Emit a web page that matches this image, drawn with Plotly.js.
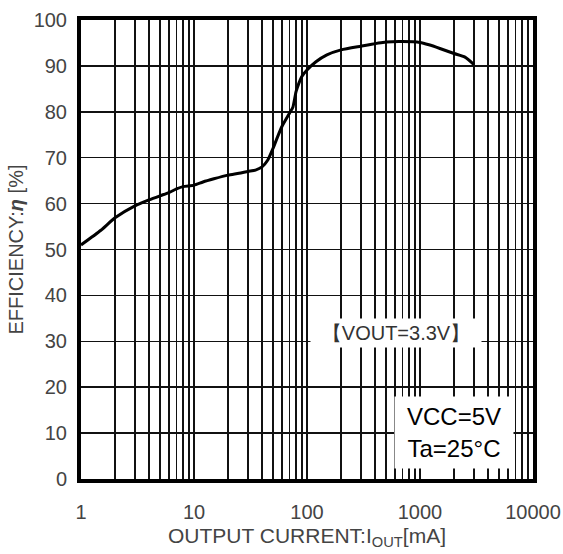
<!DOCTYPE html>
<html><head><meta charset="utf-8">
<script src="https://cdn.plot.ly/plotly-3.0.1.min.js"></script>
<style>html,body{margin:0;padding:0;background:#fff}#c{width:563px;height:554px}</style>
</head><body><div id="c"></div>
<script>
const currentMA = [1, 1.5, 2, 3, 4, 5, 6, 7, 8, 10, 12, 15, 20, 25, 30, 35, 40, 45, 50, 55, 60, 70, 75, 80, 85, 90, 100, 120, 150, 200, 300, 500, 700, 1000, 1200, 1500, 2000, 2500, 3000];
const efficiency = [51, 54.2, 56.9, 59.5, 60.8, 61.7, 62.4, 63.2, 63.7, 64, 64.7, 65.4, 66.2, 66.6, 67, 67.3, 68, 69.5, 72, 74.6, 76.8, 79.7, 81, 84.4, 86.3, 87.7, 89.1, 90.9, 92.4, 93.5, 94.3, 95.2, 95.3, 95.1, 94.6, 93.8, 92.7, 91.9, 90.3];
const decades = [1, 10, 100, 1000, 10000];
const decadeLabels = ['1', '10', '100', '1000', '10000'];
const yTicks = [0, 10, 20, 30, 40, 50, 60, 70, 80, 90, 100];

// grid positions: every digit of each decade, labels only at decades
const gridVals = [], gridText = [];
decades.forEach((d, i) => {
  if (i < decades.length - 1) {
    for (let k = 1; k <= 9; k++) { gridVals.push(d * k); gridText.push(k === 1 ? decadeLabels[i] : ''); }
  } else { gridVals.push(d); gridText.push(decadeLabels[i]); }
});

const font = 'Liberation Sans, Arial, sans-serif';
Plotly.newPlot('c', [{
  x: currentMA, y: efficiency, type: 'scatter', mode: 'lines',
  line: {color: '#000', width: 3, shape: 'spline', smoothing: 0.6},
  hoverinfo: 'none'
}], {
  width: 563, height: 554,
  margin: {l: 81, r: 30, t: 20, b: 75},
  paper_bgcolor: '#fff', plot_bgcolor: '#fff',
  showlegend: false,
  font: {family: font, color: '#333', size: 18},
  xaxis: {
    type: 'log', range: [0, 4],
    tickmode: 'array', tickvals: gridVals, ticktext: gridText,
    ticks: '', showgrid: true, gridcolor: '#111', gridwidth: 1.5,
    showline: true, linecolor: '#000', linewidth: 4, mirror: true,
    zeroline: false, ticklabelstandoff: 12,
    tickfont: {size: 20, color: '#444'},
    title: {text: 'OUTPUT CURRENT:I<sub>OUT</sub>[mA]', font: {size: 21, color: '#444'}, standoff: 7}
  },
  yaxis: {
    range: [0, 100], tickmode: 'array', tickvals: yTicks,
    ticks: '', showgrid: true, gridcolor: '#111', gridwidth: 1.5,
    showline: true, linecolor: '#000', linewidth: 4, mirror: true,
    zeroline: false, ticklabelstandoff: 6,
    tickfont: {size: 20, color: '#444'},
    title: {text: 'EFFICIENCY:<b><i>η</i></b> [%]', font: {size: 20, color: '#444'}, standoff: 6}
  },
  annotations: [
    {xref: 'paper', yref: 'paper', x: 0.697, y: 0.318, xanchor: 'center', yanchor: 'middle',
     text: '【VOUT=3.3V】', showarrow: false, width: 170, height: 28,
     font: {size: 20, color: '#333'}, bgcolor: '#fff', borderpad: 0},
    {xref: 'paper', yref: 'paper', x: 0.825, y: 0.102, xanchor: 'center', yanchor: 'middle',
     text: 'VCC=5V<br>Ta=25°C', showarrow: false, width: 118, height: 71,
     font: {size: 24, color: '#000'}, bgcolor: '#fff', borderpad: 0, align: 'center'}
  ]
}, {staticPlot: true});
</script></body></html>
